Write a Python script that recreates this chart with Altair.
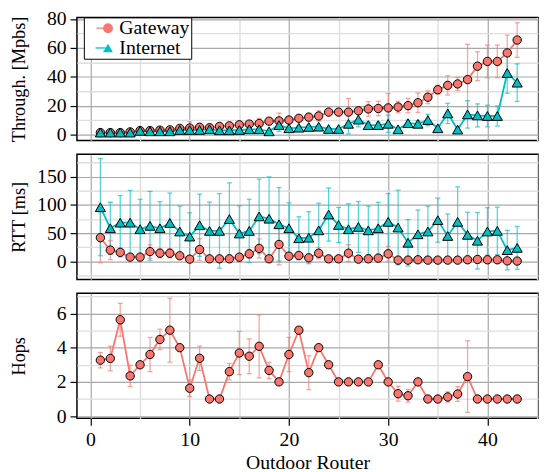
import altair as alt
import pandas as pd

routers = list(range(1, 44))
series_names = ["Gateway", "Internet"]
series_colors = ["#F8766D", "#00BFC4"]
series_shapes = ["circle", "triangle-up"]

thr_gw = [1.3, 1.3, 1.3, 1.8, 2.7, 2.7, 3.0, 3.2, 4.2, 4.5, 5.0, 4.7, 5.6, 6.0, 6.7, 7.2, 7.6, 9.2, 9.4, 10.0,
          11.2, 12.0, 12.8, 15.5, 15.5, 15.5, 16.4, 17.7, 18.0, 18.4, 19.0, 20.0, 22.0, 25.8, 31.0, 34.0, 35.0,
          38.0, 47.3, 50.6, 50.6, 56.5, 65.4]
thr_gw_err = [0.5, 0.5, 0.5, 0.6, 0.8, 0.8, 1.0, 1.0, 1.2, 4.3, 1.5, 1.2, 1.5, 1.5, 1.5, 1.8, 3.5, 2.0, 5.4, 2.0,
              1.5, 2.7, 3.6, 1.5, 1.5, 9.4, 2.0, 5.0, 5.0, 10.0, 4.0, 5.0, 6.7, 4.5, 3.0, 6.7, 4.5, 24.5, 10.0,
              11.3, 11.3, 12.3, 12.0]
thr_in = [1.3, 1.3, 1.3, 1.3, 2.5, 2.2, 2.2, 2.2, 3.1, 3.1, 3.1, 3.6, 2.9, 2.9, 3.1, 3.6, 3.6, 2.2, 6.5, 4.3,
          4.7, 5.2, 5.4, 3.8, 3.8, 7.4, 10.3, 6.5, 6.5, 7.4, 3.6, 7.8, 7.4, 10.0, 4.3, 14.6, 3.4, 13.9, 13.2,
          12.8, 12.8, 42.6, 35.9]
thr_in_err = [0.4, 0.4, 0.4, 0.4, 0.5, 0.5, 0.5, 0.5, 0.6, 0.6, 0.6, 0.6, 0.6, 0.6, 0.6, 0.6, 0.6, 0.6, 4.5, 1.0,
              1.0, 1.0, 1.0, 1.0, 1.0, 7.0, 5.0, 2.0, 2.0, 6.0, 1.0, 2.0, 2.0, 4.0, 1.0, 7.0, 1.0, 9.5, 8.0,
              7.5, 7.0, 14.0, 13.0]

rtt_gw = [42, 20, 16, 7.6, 7.6, 17.4, 14.5, 14.5, 10, 4, 21, 4.6, 4.6, 4.6, 7.6, 13.4, 23, 4.6, 30, 9.3,
          10.5, 6.4, 14.5, 4.6, 4.6, 14.5, 4, 4.6, 5.8, 13.4, 2.3, 2.3, 2.9, 2.3, 2.3, 2.3, 2.3, 2.9, 3.5,
          2.9, 2.9, 1.0, 0.6]
rtt_gw_err = [44, 17, 8, 3, 3, 12, 8, 8, 5, 3, 19, 2, 2, 2, 5, 8, 17, 2, 36, 5, 5, 4, 10, 2, 2, 15, 2, 2, 3,
              13, 1, 1, 1, 1, 1, 1, 1, 1, 1, 1, 1, 1, 1]
rtt_in = [96, 58.7, 68.6, 68.6, 57, 63, 58.7, 68, 53, 44, 64, 54, 54, 75, 49.4, 54, 79.7, 75.6, 65.7, 58.7,
          41, 42, 55, 83, 64.5, 57, 61, 55, 58.7, 70, 60, 33, 48, 53, 73, 45, 70, 47, 36.6, 53, 54, 20, 24]
rtt_in_err = [86, 46, 48, 57, 53, 61, 47, 53, 45, 42, 55, 51, 66, 64, 49, 56, 66, 74, 65, 45, 38, 46, 48, 47,
              31, 45, 45, 43, 46, 50, 66, 41, 43, 45, 39, 39, 62, 40, 50, 42, 42, 35, 38]

hops_gw = [3.27, 3.37, 5.63, 2.35, 3.0, 3.6, 4.48, 5.02, 4.0, 1.63, 3.38, 1.0, 1.0, 2.6, 3.69, 3.5, 4.08, 2.67,
           2.0, 3.6, 5.02, 2.54, 4.0, 3.0, 2.0, 2.0, 2.0, 2.0, 3.0, 2.0, 1.31, 1.19, 2.0, 1.0, 1.0, 1.12, 1.29,
           2.31, 1.0, 1.0, 1.0, 1.0, 1.0]
hops_gw_err = [0.45, 0.72, 0.96, 0.62, 0, 1.0, 0.6, 1.87, 0, 0.48, 0.71, 0, 0, 0.48, 1.26, 1.02, 1.84, 0.48,
               0, 1.0, 0, 0.99, 0, 0, 0, 0, 0, 0, 0, 0, 0.43, 0.37, 0, 0, 0, 0.3, 0.43, 2.09, 0, 0, 0, 0, 0]

FONT = "Liberation Serif"
X_DOMAIN = [-1.36, 45.1]
X_MAJOR = [0, 10, 20, 30, 40]
X_MINOR = [5, 15, 25, 35, 45]
MAJOR_GRID = "#a8a8a8"
MINOR_GRID = "#dedede"
W = 468


def make_df(parts):
    rows = []
    for name, vals, errs in parts:
        for r, v, e in zip(routers, vals, errs):
            rows.append(dict(router=r, series=name, marker=name, value=v, err=e, lo=v - e, hi=v + e))
    return pd.DataFrame(rows)


def panel(df, ytitle, ydomain, ymajor, yminor, height, bottom=False, legend=False):
    xs = alt.Scale(domain=X_DOMAIN, nice=False, zero=False)
    ys = alt.Scale(domain=ydomain, nice=False, zero=False)
    cs = alt.Scale(domain=series_names, range=series_colors)

    xmaj_kw = dict(orient="bottom", values=X_MAJOR, grid=True, gridColor=MAJOR_GRID, gridWidth=1.2,
                   domain=False, labels=bottom, ticks=bottom, format="d")
    if bottom:
        xmaj_kw.update(tickSize=7, tickColor="black", tickWidth=1.2, labelPadding=5, labelFontSize=20,
                       labelFont=FONT, labelColor="black",
                       title="Outdoor Router", titleFont=FONT, titleFontSize=20, titleY=51,
                       titleBaseline="alphabetic", titleFontWeight="normal", titleColor="black")
    else:
        xmaj_kw.update(title=None)
    x_major = alt.Axis(**xmaj_kw)
    x_minor = alt.Axis(orient="top", values=X_MINOR, grid=True, gridColor=MINOR_GRID, gridWidth=1.4,
                       domain=False, labels=False, ticks=False, title=None)
    y_major = alt.Axis(orient="left", values=ymajor, grid=True, gridColor=MAJOR_GRID, gridWidth=1.2,
                       domain=False, ticks=True, tickSize=7, tickColor="black", tickWidth=1.2,
                       labelPadding=4, labelFont=FONT, labelFontSize=20, labelColor="black",
                       title=ytitle, titleFont=FONT, titleFontSize=18.5, titleFontWeight="normal",
                       titleColor="black", titleX=-53.5, titleBaseline="alphabetic")
    y_minor = alt.Axis(orient="right", values=yminor, grid=True, gridColor=MINOR_GRID, gridWidth=1.4,
                       domain=False, labels=False, ticks=False, title=None)

    x_none = alt.X("router:Q", scale=xs, axis=None)
    df_err = df[df["err"] > 0]

    if legend:
        err_color = alt.Color("series:N", scale=cs)
    else:
        err_color = alt.Color("series:N", scale=cs, legend=None)

    err = alt.Chart(df_err).mark_rule(strokeWidth=1.3, opacity=0.65).encode(
        x=x_none, y=alt.Y("lo:Q", scale=ys, axis=None), y2="hi:Q", color=err_color)
    cap_lo = alt.Chart(df_err).mark_tick(orient="horizontal", size=5, thickness=1.3, opacity=0.65).encode(
        x=x_none, y=alt.Y("lo:Q", scale=ys, axis=None), color=err_color)
    cap_hi = alt.Chart(df_err).mark_tick(orient="horizontal", size=5, thickness=1.3, opacity=0.65).encode(
        x=x_none, y=alt.Y("hi:Q", scale=ys, axis=None), color=err_color)

    if legend:
        leg_line = alt.Legend(orient="none", legendX=7, legendY=0, direction="vertical", title=None,
                              padding=1, strokeColor="black", fillColor="white", cornerRadius=0,
                              labelFont=FONT, labelFontSize=20, labelColor="black",
                              symbolType="stroke", symbolSize=576, symbolStrokeWidth=2,
                              symbolOffset=6, labelOffset=9, rowPadding=0)
        leg_pts = alt.Legend(orient="none", legendX=7, legendY=0, direction="vertical", title=None,
                             padding=1, labelFont=FONT, labelFontSize=20, labelOpacity=0,
                             labelExpr="' '",
                             symbolSize=100, symbolStrokeColor="black", symbolStrokeWidth=1,
                             symbolOffset=13.5, labelOffset=9, rowPadding=0)
        line_color = alt.Color("series:N", scale=cs, legend=leg_line)
        pt_fill = alt.Fill("marker:N", scale=alt.Scale(range=series_colors), legend=leg_pts)
        pt_shape = alt.Shape("marker:N", scale=alt.Scale(range=series_shapes), legend=leg_pts)
    else:
        line_color = alt.Color("series:N", scale=cs, legend=None)
        pt_fill = alt.Fill("marker:N", scale=alt.Scale(range=series_colors), legend=None)
        pt_shape = alt.Shape("marker:N", scale=alt.Scale(range=series_shapes), legend=None)

    line = alt.Chart(df).mark_line(strokeWidth=1.8).encode(
        x=alt.X("router:Q", scale=xs, axis=x_major),
        y=alt.Y("value:Q", scale=ys, axis=y_major),
        color=line_color)
    pts = alt.Chart(df).mark_point(filled=True, stroke="black", strokeWidth=1, opacity=1).encode(
        x=alt.X("router:Q", scale=xs, axis=x_minor),
        y=alt.Y("value:Q", scale=ys, axis=y_minor),
        fill=pt_fill, shape=pt_shape,
        size=alt.Size("marker:N", scale=alt.Scale(domain=series_names, range=[72, 105]), legend=None))

    return alt.layer(err, cap_lo, cap_hi, line, pts).resolve_axis(
        x="independent", y="independent").properties(width=W, height=height)


df_thr = make_df([("Gateway", thr_gw, thr_gw_err), ("Internet", thr_in, thr_in_err)])
df_rtt = make_df([("Gateway", rtt_gw, rtt_gw_err), ("Internet", rtt_in, rtt_in_err)])
df_hops = make_df([("Gateway", hops_gw, hops_gw_err)])

p1 = panel(df_thr, "Through. [Mpbs]", [-4.2, 81.1], [0, 20, 40, 60, 80], [10, 30, 50, 70], 125, legend=True)
p2 = panel(df_rtt, "RTT [ms]", [-31.9, 189.5], [0, 50, 100, 150], [-25, 25, 75, 125, 175], 127)
p3 = panel(df_hops, "Hops", [-0.13, 7.18], [0, 2, 4, 6], [1, 3, 5, 7], 127, bottom=True)

chart = alt.vconcat(p1, p2, p3, spacing=14, bounds="flush").properties(
    padding={"left": 0, "top": -4, "right": 0, "bottom": 0}
).configure_view(stroke="black", strokeWidth=1.5).configure_axis(
    labelFont=FONT, titleFont=FONT, labelColor="black", titleColor="black", titleFontWeight="normal"
)

chart.save("out.html", embed_options={"renderer": "svg", "actions": False})
